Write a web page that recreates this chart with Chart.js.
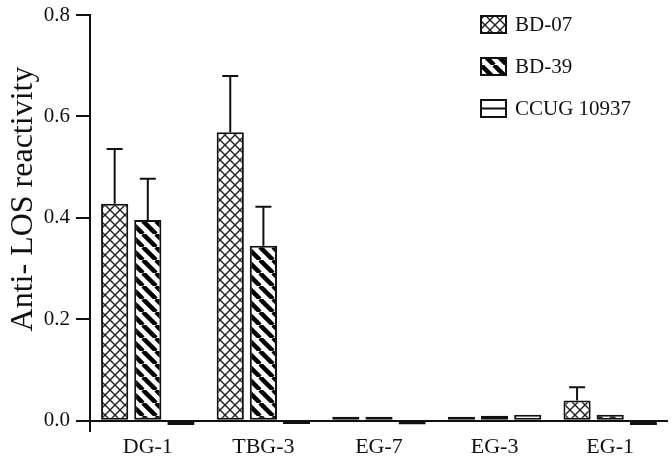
<!DOCTYPE html>
<html>
<head>
<meta charset="utf-8">
<script src="https://cdn.jsdelivr.net/npm/chart.js@4"></script>
<style>
    body { margin: 0; background: #fff; }
    #wrap { width: 672px; height: 459px; }
</style>
</head>
<body>
<div id="wrap"><canvas id="chartLOS" width="672" height="459"></canvas></div>
<script>
// values
const categories = ['DG-1', 'TBG-3', 'EG-7', 'EG-3', 'EG-1'];
const seriesNames = ['BD-07', 'BD-39', 'CCUG 10937'];
const bd07 = [0.428, 0.569, 0.008, 0.008, 0.040];
const bd39 = [0.396, 0.345, 0.008, 0.010, 0.012];
const ccug = [-0.008, -0.006, -0.007, 0.012, -0.008];
const bd07Err = [0.108, 0.111, 0, 0, 0.026];
const bd39Err = [0.081, 0.077, 0, 0, 0];
const ccugErr = [0, 0, 0, 0, 0];
const yTicks = [0, 0.2, 0.4, 0.6, 0.8];

const serif = "'Liberation Serif', 'Times New Roman', serif";

// hatch fills
function makeTile(size, draw) {
    const c = document.createElement('canvas');
    c.width = size; c.height = size;
    const g = c.getContext('2d');
    g.fillStyle = '#fff';
    g.fillRect(0, 0, size, size);
    draw(g, size);
    return document.createElement('canvas').getContext('2d').createPattern(c, 'repeat');
}

const crossFill = makeTile(10, (g, s) => {
    g.strokeStyle = '#222';
    g.lineWidth = 1.4;
    for (const k of [-s, 0, s]) {
        g.beginPath(); g.moveTo(k, 0); g.lineTo(k + s, s); g.stroke();
        g.beginPath(); g.moveTo(k + s, 0); g.lineTo(k, s); g.stroke();
    }
});

const stripeFill = makeTile(13, (g, s) => {
    g.strokeStyle = '#000';
    g.lineWidth = 4.5;
    for (const k of [-s, 0, s]) {
        g.beginPath(); g.moveTo(k, 0); g.lineTo(k + s, s); g.stroke();
    }
});

const lineFill = makeTile(8, (g, s) => {
    g.fillStyle = '#222';
    g.fillRect(0, 3, s, 2);
});

const fills = [crossFill, stripeFill, lineFill];
const errs = [bd07Err, bd39Err, ccugErr];

// upper error bars
const errorBars = {
    id: 'errorBars',
    afterDatasetsDraw(chart) {
        const ctx = chart.ctx;
        const yScale = chart.scales.y;
        ctx.save();
        ctx.strokeStyle = '#111';
        ctx.lineWidth = 2;
        chart.data.datasets.forEach((ds, di) => {
            const meta = chart.getDatasetMeta(di);
            meta.data.forEach((bar, i) => {
                const e = errs[di][i];
                if (!e) return;
                const yTop = yScale.getPixelForValue(ds.data[i] + e);
                ctx.beginPath();
                ctx.moveTo(bar.x, bar.y);
                ctx.lineTo(bar.x, yTop);
                ctx.moveTo(bar.x - 8, yTop);
                ctx.lineTo(bar.x + 8, yTop);
                ctx.stroke();
            });
        });
        ctx.restore();
    }
};

// legend top right + rotated axis title
const sideText = {
    id: 'sideText',
    afterDraw(chart) {
        const ctx = chart.ctx;
        ctx.save();
        seriesNames.forEach((name, i) => {
            const y = 16 + i * 42;
            if (i === 2) {
                // plain box split by a middle rule, as in the figure's key
                ctx.fillStyle = '#fff';
                ctx.fillRect(481, y, 25, 17);
                ctx.fillStyle = '#111';
                ctx.fillRect(481, y + 7.5, 25, 2);
            } else {
                ctx.fillStyle = fills[i];
                ctx.fillRect(481, y, 25, 17);
            }
            ctx.strokeStyle = '#111';
            ctx.lineWidth = 2;
            ctx.strokeRect(481, y, 25, 17);
            ctx.fillStyle = '#111';
            ctx.font = '21px ' + serif;
            ctx.textAlign = 'left';
            ctx.textBaseline = 'middle';
            ctx.fillText(name, 515, y + 9);
        });
        ctx.translate(32, 199);
        ctx.rotate(-Math.PI / 2);
        ctx.font = '32px ' + serif;
        ctx.textAlign = 'center';
        ctx.textBaseline = 'alphabetic';
        ctx.fillText('Anti- LOS reactivity', 0, 0);
        ctx.restore();
    }
};

Chart.defaults.font.family = serif;
Chart.defaults.color = '#111';

new Chart(document.getElementById('chartLOS'), {
    type: 'bar',
    data: {
        labels: categories,
        datasets: [bd07, bd39, ccug].map((vals, i) => ({
            label: seriesNames[i],
            data: vals,
            backgroundColor: fills[i],
            borderColor: '#111',
            borderWidth: 2,
            borderSkipped: false,
            categoryPercentage: 0.86,
            barPercentage: 0.82
        }))
    },
    options: {
        responsive: false,
        animation: false,
        devicePixelRatio: 1,
        layout: { padding: { top: 15, right: 4, left: 0, bottom: 0 } },
        plugins: { legend: { display: false }, tooltip: { enabled: false } },
        scales: {
            x: {
                grid: { display: false, drawTicks: false },
                border: { display: false },
                ticks: { font: { size: 22 }, padding: 3, color: '#111' },
                afterFit: s => { s.height = 28; s.paddingLeft = 0; s.paddingRight = 0; }
            },
            y: {
                min: -0.02,
                max: 0.8,
                afterBuildTicks: s => { s.ticks = yTicks.map(v => ({ value: v })); },
                afterFit: s => { s.width = 90; s.paddingTop = 0; s.paddingBottom = 0; },
                border: { display: true, color: '#111', width: 2 },
                grid: {
                    color: c => (c.tick && c.tick.value === 0 ? '#111' : 'rgba(0,0,0,0)'),
                    tickColor: '#111',
                    tickLength: 14,
                    lineWidth: 2
                },
                ticks: {
                    font: { size: 21 },
                    padding: 6,
                    color: '#111',
                    callback: v => Number(v).toFixed(1)
                }
            }
        }
    },
    plugins: [errorBars, sideText]
});
</script>
</body>
</html>
